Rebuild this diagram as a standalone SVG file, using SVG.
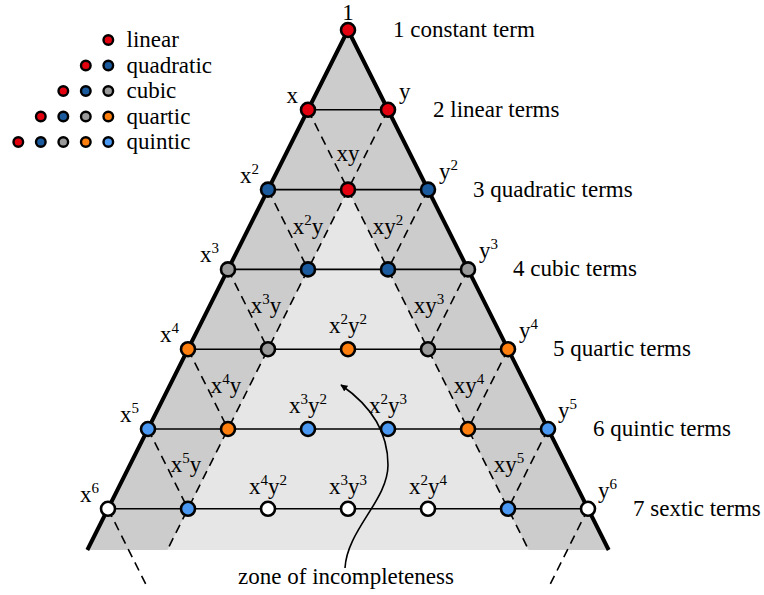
<svg xmlns="http://www.w3.org/2000/svg" width="764" height="595" viewBox="0 0 764 595">
<style>
text{font-family:"Liberation Serif","Times New Roman",serif;font-size:23px;fill:#000}
.m{text-anchor:middle}
.e{text-anchor:end}
.s{font-size:15px}
.h{stroke:#000;stroke-width:1.6;fill:none}
.d{stroke:#000;stroke-width:1.6;stroke-dasharray:9 6;fill:none}
.n{stroke:#000;stroke-width:2.6}
.l{stroke:#000;stroke-width:2.4}
.r{fill:#e3000f}.b{fill:#1b5a9c}.g{fill:#9a9a9a}.o{fill:#ff7f0e}.c{fill:#4a98f2}.w{fill:#fff}
</style>
<defs>
<marker id="ah" viewBox="0 0 10 10" refX="9" refY="5" markerWidth="7" markerHeight="7" markerUnits="userSpaceOnUse" orient="auto">
<path d="M0,0 L10,5 L0,10 z" fill="#000"/>
</marker>
</defs>
<g id="shading">
<polygon points="348,30 87.3,550 608.7,550" fill="#cccccc"/>
<polygon points="348,189.6 167.3,550 528.7,550" fill="#e6e6e6"/>
</g>
<g id="connectors">
<path class="d" d="M308,109.8 L348,189.6 M268,189.6 L308,269.4 M228,269.4 L268,349.2 M188,349.2 L228,429 M148,429 L188,508.8 M108,508.8 L147.2,587"/>
<path class="d" d="M388,109.8 L348,189.6 M428,189.6 L388,269.4 M468,269.4 L428,349.2 M508,349.2 L468,429 M548,429 L508,508.8 M588,508.8 L548.8,587"/>
<path class="d" d="M348,189.6 L167.3,550 M348,189.6 L528.7,550"/>
<path class="h" d="M308,109.8 H388 M268,189.6 H428 M228,269.4 H468 M188,349.2 H508 M148,429 H548 M108,508.8 H588"/>
<polyline points="87.3,550 348,30 608.7,550" fill="none" stroke="#000" stroke-width="4" stroke-linejoin="round"/>
<path d="M345,568 C347,530 388,500 388,465 C388,430 370,405 341,385" fill="none" stroke="#000" stroke-width="1.6" marker-end="url(#ah)"/>
</g>
<g id="nodes">
<circle class="n r" cx="348" cy="30" r="7"/>
<circle class="n r" cx="308" cy="109.8" r="7"/>
<circle class="n r" cx="388" cy="109.8" r="7"/>
<circle class="n b" cx="268" cy="189.6" r="7"/>
<circle class="n r" cx="348" cy="189.6" r="7"/>
<circle class="n b" cx="428" cy="189.6" r="7"/>
<circle class="n g" cx="228" cy="269.4" r="7"/>
<circle class="n b" cx="308" cy="269.4" r="7"/>
<circle class="n b" cx="388" cy="269.4" r="7"/>
<circle class="n g" cx="468" cy="269.4" r="7"/>
<circle class="n o" cx="188" cy="349.2" r="7"/>
<circle class="n g" cx="268" cy="349.2" r="7"/>
<circle class="n o" cx="348" cy="349.2" r="7"/>
<circle class="n g" cx="428" cy="349.2" r="7"/>
<circle class="n o" cx="508" cy="349.2" r="7"/>
<circle class="n c" cx="148" cy="429" r="7"/>
<circle class="n o" cx="228" cy="429" r="7"/>
<circle class="n c" cx="308" cy="429" r="7"/>
<circle class="n c" cx="388" cy="429" r="7"/>
<circle class="n o" cx="468" cy="429" r="7"/>
<circle class="n c" cx="548" cy="429" r="7"/>
<circle class="n w" cx="108" cy="508.8" r="7"/>
<circle class="n c" cx="188" cy="508.8" r="7"/>
<circle class="n w" cx="268" cy="508.8" r="7"/>
<circle class="n w" cx="348" cy="508.8" r="7"/>
<circle class="n w" cx="428" cy="508.8" r="7"/>
<circle class="n c" cx="508" cy="508.8" r="7"/>
<circle class="n w" cx="588" cy="508.8" r="7"/>
</g>
<g id="monomials">
<text class="m" x="348" y="19.5">1</text>
<text class="e" x="298" y="102.8">x</text>
<text class="e" x="259" y="182.6">x<tspan class="s" dy="-9">2</tspan></text>
<text class="e" x="219" y="262.4">x<tspan class="s" dy="-9">3</tspan></text>
<text class="e" x="179" y="342.2">x<tspan class="s" dy="-9">4</tspan></text>
<text class="e" x="139" y="422">x<tspan class="s" dy="-9">5</tspan></text>
<text class="e" x="99" y="501.8">x<tspan class="s" dy="-9">6</tspan></text>
<text x="399" y="98.8">y</text>
<text x="439" y="178.6">y<tspan class="s" dy="-9">2</tspan></text>
<text x="479" y="258.4">y<tspan class="s" dy="-9">3</tspan></text>
<text x="519" y="338.2">y<tspan class="s" dy="-9">4</tspan></text>
<text x="558" y="418">y<tspan class="s" dy="-9">5</tspan></text>
<text x="598" y="497.8">y<tspan class="s" dy="-9">6</tspan></text>
<text class="m" x="348" y="161">xy</text>
<text class="m" x="308" y="233.5">x<tspan class="s" dy="-9">2</tspan><tspan dy="9">y</tspan></text>
<text class="m" x="388" y="233.5">xy<tspan class="s" dy="-9">2</tspan></text>
<text class="m" x="266" y="313">x<tspan class="s" dy="-9">3</tspan><tspan dy="9">y</tspan></text>
<text class="m" x="429" y="313">xy<tspan class="s" dy="-9">3</tspan></text>
<text class="m" x="226" y="393">x<tspan class="s" dy="-9">4</tspan><tspan dy="9">y</tspan></text>
<text class="m" x="469" y="393">xy<tspan class="s" dy="-9">4</tspan></text>
<text class="m" x="186" y="472">x<tspan class="s" dy="-9">5</tspan><tspan dy="9">y</tspan></text>
<text class="m" x="509" y="472">xy<tspan class="s" dy="-9">5</tspan></text>
<text class="m" x="348" y="333">x<tspan class="s" dy="-9">2</tspan><tspan dy="9">y</tspan><tspan class="s" dy="-9">2</tspan></text>
<text class="m" x="308" y="413">x<tspan class="s" dy="-9">3</tspan><tspan dy="9">y</tspan><tspan class="s" dy="-9">2</tspan></text>
<text class="m" x="388" y="413">x<tspan class="s" dy="-9">2</tspan><tspan dy="9">y</tspan><tspan class="s" dy="-9">3</tspan></text>
<text class="m" x="268" y="494">x<tspan class="s" dy="-9">4</tspan><tspan dy="9">y</tspan><tspan class="s" dy="-9">2</tspan></text>
<text class="m" x="348" y="494">x<tspan class="s" dy="-9">3</tspan><tspan dy="9">y</tspan><tspan class="s" dy="-9">3</tspan></text>
<text class="m" x="428" y="494">x<tspan class="s" dy="-9">2</tspan><tspan dy="9">y</tspan><tspan class="s" dy="-9">4</tspan></text>
</g>
<g id="row-labels">
<text x="393" y="37">1 constant term</text>
<text x="433" y="116.8">2 linear terms</text>
<text x="473" y="196.6">3 quadratic terms</text>
<text x="513" y="276.4">4 cubic terms</text>
<text x="553" y="356.2">5 quartic terms</text>
<text x="593" y="436">6 quintic terms</text>
<text x="633" y="515.8">7 sextic terms</text>
<text class="m" x="346" y="584">zone of incompleteness</text>
</g>
<g id="legend">
<circle class="l r" cx="108.3" cy="40" r="4.8"/>
<text x="126.5" y="47">linear</text>
<circle class="l r" cx="85.8" cy="65.5" r="4.8"/>
<circle class="l b" cx="108.3" cy="65.5" r="4.8"/>
<text x="126.5" y="72.5">quadratic</text>
<circle class="l r" cx="63.3" cy="91" r="4.8"/>
<circle class="l b" cx="85.8" cy="91" r="4.8"/>
<circle class="l g" cx="108.3" cy="91" r="4.8"/>
<text x="126.5" y="98">cubic</text>
<circle class="l r" cx="40.8" cy="116.5" r="4.8"/>
<circle class="l b" cx="63.3" cy="116.5" r="4.8"/>
<circle class="l g" cx="85.8" cy="116.5" r="4.8"/>
<circle class="l o" cx="108.3" cy="116.5" r="4.8"/>
<text x="126.5" y="123.5">quartic</text>
<circle class="l r" cx="18.3" cy="142" r="4.8"/>
<circle class="l b" cx="40.8" cy="142" r="4.8"/>
<circle class="l g" cx="63.3" cy="142" r="4.8"/>
<circle class="l o" cx="85.8" cy="142" r="4.8"/>
<circle class="l c" cx="108.3" cy="142" r="4.8"/>
<text x="126.5" y="149">quintic</text>
</g>
</svg>
